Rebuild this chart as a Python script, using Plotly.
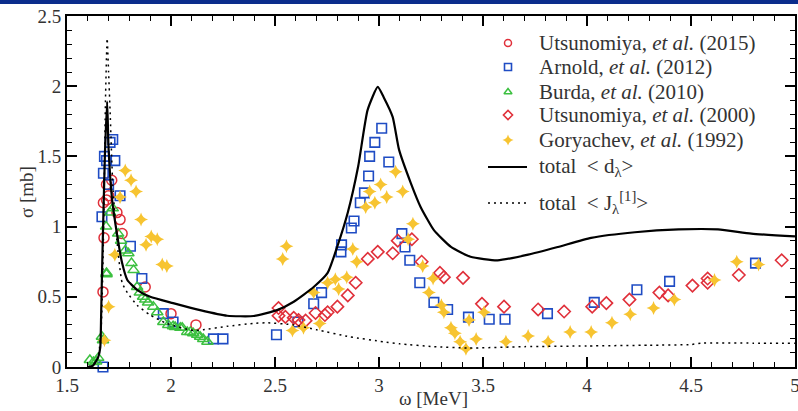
import plotly.graph_objects as go

# ---------------- data ----------------
uts2015_x = [1.673, 1.675, 1.678, 1.69, 1.69, 1.70, 1.715, 1.74, 1.755, 1.765, 1.876, 2.0, 2.12]
uts2015_y = [0.535, 1.17, 0.92, 1.19, 1.3, 1.22, 1.33, 1.1, 1.05, 0.95, 0.57, 0.38, 0.30]

arnold_x = [1.673, 1.668, 1.675, 1.68, 1.69, 1.70, 1.707, 1.72, 1.73, 1.755, 1.805, 1.86,
            1.963, 2.01, 2.204, 2.25, 2.507, 2.61, 2.686, 2.724, 2.82, 2.817, 2.867, 2.88,
            2.91, 2.93, 2.95, 2.955, 2.98, 3.013, 3.047, 3.11, 3.125, 3.148, 3.196, 3.264,
            3.33, 3.43, 3.53, 3.606, 3.81, 4.035, 4.24, 4.397, 4.81]
arnold_y = [0.0, 1.07, 1.38, 1.5, 1.47, 1.3, 1.6, 1.62, 1.47, 1.22, 0.86, 0.63,
            0.38, 0.32, 0.2, 0.2, 0.23, 0.32, 0.45, 0.53, 0.87, 0.82, 0.99, 1.04,
            1.17, 1.24, 1.36, 1.5, 1.6, 1.7, 1.46, 0.95, 0.855, 0.76, 0.6, 0.46,
            0.41, 0.355, 0.34, 0.34, 0.38, 0.46, 0.55, 0.61, 0.74]

burda_x = [1.61, 1.627, 1.64, 1.65, 1.668, 1.673, 1.688, 1.69, 1.69, 1.707, 1.72, 1.746,
           1.76, 1.78, 1.795, 1.81, 1.82, 1.837, 1.85, 1.866, 1.876, 1.89, 1.915, 1.934,
           1.963, 1.987, 2.01, 2.02, 2.045, 2.054, 2.078, 2.093, 2.107, 2.126, 2.14,
           2.155, 2.175]
burda_y = [0.05, 0.036, 0.04, 0.065, 0.215, 0.19, 1.0, 0.67, 0.66, 1.1, 1.13, 0.95,
           0.9, 0.83, 0.81, 0.74, 0.69, 0.57, 0.53, 0.5, 0.48, 0.46, 0.43, 0.39,
           0.32, 0.3, 0.29, 0.285, 0.28, 0.28, 0.25, 0.25, 0.24, 0.23, 0.215,
           0.2, 0.18]

uts2000_x = [2.517, 2.517, 2.55, 2.59, 2.613, 2.647, 2.695, 2.74, 2.753, 2.80, 2.85,
             2.888, 2.946, 2.994, 3.066, 3.09, 3.158, 3.205, 3.293, 3.312, 3.404, 3.495,
             3.601, 3.765, 3.89, 4.025, 4.093, 4.204, 4.348, 4.39, 4.507, 4.58, 4.58,
             4.73, 4.936]
uts2000_y = [0.42, 0.365, 0.357, 0.35, 0.335, 0.33, 0.385, 0.37, 0.39, 0.43, 0.51,
             0.6, 0.77, 0.82, 0.81, 0.9, 0.91, 0.75, 0.67, 0.64, 0.635, 0.45,
             0.43, 0.41, 0.395, 0.43, 0.455, 0.48, 0.53, 0.51, 0.58, 0.63, 0.6,
             0.655, 0.76]

gory_x = [1.68, 1.70, 1.73, 1.755, 1.78, 1.808, 1.832, 1.856, 1.88, 1.905, 1.934, 1.958,
          1.98, 2.537, 2.555, 2.584, 2.637, 2.686, 2.715, 2.753, 2.79, 2.806, 2.845,
          2.874, 2.893, 2.936, 2.955, 2.98, 3.008, 3.037, 3.08, 3.114, 3.14, 3.163,
          3.21, 3.24, 3.26, 3.3, 3.312, 3.346, 3.365, 3.39, 3.418, 3.433, 3.467, 3.505,
          3.61, 3.717, 3.813, 3.919, 4.02, 4.12, 4.208, 4.32, 4.42, 4.613, 4.72, 4.825]
gory_y = [0.19, 0.43, 0.8, 1.21, 1.4, 1.33, 1.25, 1.05, 0.87, 0.93, 0.91, 0.73,
          0.72, 0.77, 0.86, 0.26, 0.28, 0.53, 0.31, 0.6, 0.625, 0.555, 0.64,
          0.84, 0.75, 1.14, 1.25, 1.17, 1.3, 1.21, 1.39, 1.25, 0.91, 1.02,
          0.72, 0.53, 0.63, 0.44, 0.39, 0.28, 0.24, 0.18, 0.13, 0.335, 0.2, 0.39,
          0.18, 0.22, 0.18, 0.25, 0.25, 0.315, 0.375, 0.42, 0.48, 0.62, 0.75, 0.73]

d_x = [1.60, 1.625, 1.65, 1.66, 1.664, 1.669, 1.682, 1.693, 1.70, 1.717, 1.74, 1.765,
       1.79, 1.837, 1.9, 2.01, 2.14, 2.27, 2.397, 2.51, 2.59, 2.686, 2.753, 2.8, 2.85,
       2.9, 2.945, 2.994, 3.023, 3.066, 3.096, 3.153, 3.2, 3.264, 3.346, 3.44, 3.57,
       3.717, 3.86, 4.02, 4.23, 4.44, 4.63, 4.79, 5.0]
d_y = [0.0, 0.01, 0.07, 0.14, 0.36, 0.71, 1.5, 1.89, 1.55, 1.19, 0.95, 0.74,
       0.62, 0.55, 0.5, 0.455, 0.405, 0.365, 0.363, 0.405, 0.465, 0.57, 0.67, 0.86, 1.1,
       1.43, 1.83, 1.995, 1.92, 1.78, 1.55, 1.31, 1.14, 0.975, 0.855, 0.785, 0.76,
       0.8, 0.855, 0.92, 0.96, 0.98, 0.98, 0.95, 0.93]

j_x = [1.60, 1.63, 1.65, 1.665, 1.675, 1.685, 1.693, 1.70, 1.707, 1.72, 1.74, 1.765,
       1.79, 1.837, 1.9, 1.98, 2.107, 2.155, 2.27, 2.394, 2.46, 2.59, 2.7, 2.86, 3.02,
       3.1, 3.264, 3.43, 3.7, 4.0, 4.3, 4.5, 4.55, 4.8, 5.0]
j_y = [0.0, 0.02, 0.07, 0.3, 0.9, 1.9, 2.34, 2.1, 1.83, 1.3, 0.9, 0.6,
       0.53, 0.44, 0.37, 0.31, 0.26, 0.265, 0.29, 0.31, 0.315, 0.3, 0.265, 0.215, 0.18,
       0.165, 0.145, 0.135, 0.145, 0.15, 0.155, 0.16, 0.17, 0.17, 0.17]

legend_labels = ["Utsunomiya, <i>et al.</i> (2015)",
                 "Arnold, <i>et al.</i> (2012)",
                 "Burda, <i>et al.</i> (2010)",
                 "Utsunomiya, <i>et al.</i> (2000)",
                 "Goryachev, <i>et al.</i> (1992)",
                 "total\u00a0\u00a0&lt; d<sub>λ</sub>&gt;",
                 "total\u00a0\u00a0&lt; J<sub>λ</sub><sup>[1]</sup>&gt;"]

RED = "#e0303a"
BLUE = "#1f4cc4"
GREEN = "#3cc040"
GOLD = "#f7c431"

# plot area in pixels (for the hand-placed legend)
PX_L, PX_R, PX_T, PX_B = 67, 795, 16, 367


def px2paper(px, py):
    return (px - PX_L) / (PX_R - PX_L), (PX_B - py) / (PX_B - PX_T)


row_py = [43, 67, 92, 115, 140, 167, 203]
sym_px, line_px0, line_px1, text_px = 508, 488, 527, 537

styles = [
    dict(symbol="circle-open", size=10, color=RED, line=dict(width=1.5)),
    dict(symbol="square-open", size=9.5, color=BLUE, line=dict(width=1.6)),
    dict(symbol="triangle-up-open", size=10, color=GREEN, line=dict(width=1.5)),
    dict(symbol="diamond-open", size=9.5, color=RED, line=dict(width=1.6)),
    dict(symbol="star-diamond", size=10, color=GOLD, line=dict(width=0)),
]
series = [(uts2015_x, uts2015_y), (arnold_x, arnold_y), (burda_x, burda_y),
          (uts2000_x, uts2000_y), (gory_x, gory_y)]

fig = go.Figure()
for (sx, sy), st, lab in zip(series, styles, legend_labels):
    fig.add_trace(go.Scatter(x=sx, y=sy, mode="markers", name=lab, marker=st,
                             cliponaxis=False, showlegend=False))
fig.add_trace(go.Scatter(x=d_x, y=d_y, mode="lines", name=legend_labels[5], showlegend=False,
                         line=dict(color="black", width=2.2, shape="spline", smoothing=0.5)))
fig.add_trace(go.Scatter(x=j_x, y=j_y, mode="lines", name=legend_labels[6], showlegend=False,
                         line=dict(color="black", width=1.5, dash="2px,4px", shape="spline", smoothing=0.5)))

# legend symbols on an overlay axis whose range equals the paper fraction
for i, st in enumerate(styles):
    lx, ly = px2paper(sym_px, row_py[i])
    st_small = dict(st)
    st_small["size"] = 7 if st["symbol"] != "star-diamond" else 8
    fig.add_trace(go.Scatter(x=[lx], y=[ly], mode="markers", marker=st_small,
                             xaxis="x2", yaxis="y2", showlegend=False, hoverinfo="skip",
                             cliponaxis=False))

FONT = "Liberation Serif"
TXT = "#333333"
axis_common = dict(showline=True, linecolor="black", linewidth=2, mirror="ticks",
                   ticks="inside", ticklen=10, tickwidth=1.5, tickcolor="black",
                   showgrid=False, zeroline=False, ticklabeloverflow="allow",
                   tickfont=dict(family=FONT, size=19, color=TXT))

fig.update_xaxes(range=[1.5, 5], dtick=0.5, tick0=1.5,
                 minor=dict(dtick=0.1, ticks="inside", ticklen=5, tickwidth=1.2, tickcolor="black"),
                 **axis_common)
fig.update_yaxes(range=[0, 2.5], dtick=0.5, tick0=0,
                 minor=dict(dtick=0.1, ticks="inside", ticklen=5, tickwidth=1.2, tickcolor="black"),
                 **axis_common)

annotations = []
for i, lab in enumerate(legend_labels):
    ax, ay = px2paper(text_px, row_py[i])
    annotations.append(dict(x=ax, y=ay, xref="paper", yref="paper", text=lab, showarrow=False,
                            xanchor="left", yanchor="middle",
                            font=dict(family=FONT, size=21, color=TXT)))
tx, ty = px2paper(433, 398)
annotations.append(dict(x=tx, y=ty, xref="paper", yref="paper", text="ω [MeV]", showarrow=False,
                        xanchor="center", yanchor="middle", font=dict(family=FONT, size=19, color=TXT)))
tx, ty = px2paper(27, 192)
annotations.append(dict(x=tx, y=ty, xref="paper", yref="paper", text="σ [mb]", showarrow=False,
                        textangle=-90, xanchor="center", yanchor="middle",
                        font=dict(family=FONT, size=19, color=TXT)))

shapes = [dict(type="rect", xref="paper", yref="paper", x0=-0.2, x1=1.2,
               y0=1.0345, y1=1.08, fillcolor="#0b2d8c", line=dict(width=0), layer="above")]
for i, dash, w in [(5, "solid", 2.2), (6, "2px,4px", 1.5)]:
    x0, y0 = px2paper(line_px0, row_py[i])
    x1, _ = px2paper(line_px1, row_py[i])
    shapes.append(dict(type="line", xref="paper", yref="paper", x0=x0, x1=x1, y0=y0, y1=y0,
                       line=dict(color="black", width=w, dash=dash)))

fig.update_layout(
    width=798, height=411,
    margin=dict(l=PX_L, r=798 - PX_R, t=PX_T, b=411 - PX_B, autoexpand=False),
    plot_bgcolor="white", paper_bgcolor="white",
    showlegend=False,
    xaxis2=dict(overlaying="x", range=[0, 1], visible=False, fixedrange=True),
    yaxis2=dict(overlaying="y", range=[0, 1], visible=False, fixedrange=True),
    annotations=annotations,
    shapes=shapes,
)

fig.write_html("out.html")
